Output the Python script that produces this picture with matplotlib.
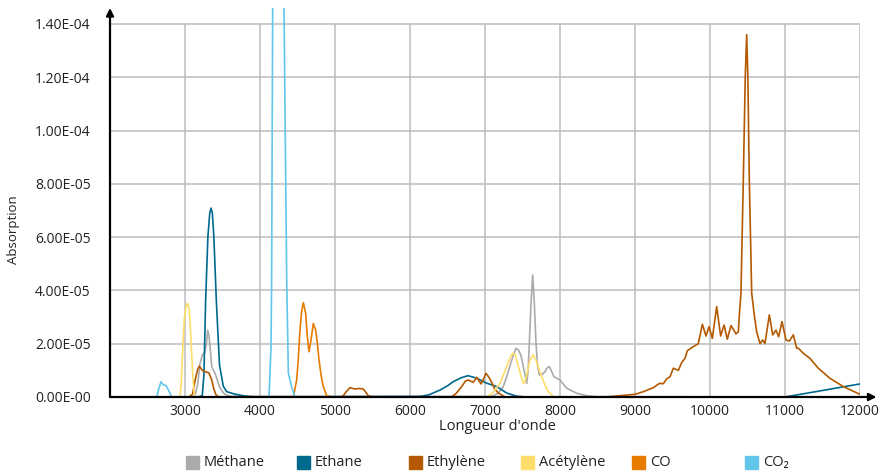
import matplotlib
matplotlib.use("Agg")
import matplotlib.pyplot as plt
from matplotlib.patches import Rectangle

plt.rcParams['font.family'] = ['Open Sans', 'DejaVu Sans']

SCALE = 1e-5  # absorption values below are given in units of 1E-05

methane_x = [2500, 3100, 3133, 3170, 3200, 3236, 3260, 3285, 3302, 3320, 3340, 3356, 3400, 3430, 3458,
             3500, 3533, 3600, 7050, 7111, 7180, 7244, 7300, 7356, 7413, 7450, 7476, 7500, 7520, 7556,
             7575, 7591, 7615, 7636, 7658, 7680, 7700, 7724, 7760, 7800, 7830, 7858, 7890, 7920, 8000,
             8089, 8222, 8356, 8500, 12000]
methane_y = [0, 0, 0.05, 0.5, 1.26, 1.61, 1.65, 2.0, 2.51, 2.3, 1.7, 1.14, 0.89, 0.65, 0.39,
             0.2, 0.1, 0.03, 0.02, 0.05, 0.15, 0.39, 0.85, 1.39, 1.83, 1.75, 1.58, 1.3, 1.01, 0.51,
             1.0, 2.02, 3.6, 4.58, 3.5, 2.03, 1.2, 0.83, 0.85, 0.95, 1.1, 1.14, 0.95, 0.76, 0.64,
             0.33, 0.14, 0.05, 0.01, 0]

ethane_x = [2500, 3150, 3200, 3230, 3252, 3275, 3305, 3330, 3347, 3365, 3385, 3418, 3460, 3511, 3556,
            3650, 3750, 3850, 3950, 6133, 6250, 6400, 6500, 6573, 6680, 6773, 6850, 6907, 7022, 7156,
            7289, 7422, 7550, 11000, 12000]
ethane_y = [0, 0, 0.02, 0.05, 0.8, 3.6, 6.0, 6.9, 7.09, 6.9, 6.0, 3.6, 1.2, 0.4, 0.2,
            0.12, 0.06, 0.02, 0, 0.02, 0.08, 0.26, 0.42, 0.57, 0.72, 0.80, 0.74, 0.68, 0.52, 0.39,
            0.15, 0.03, 0, 0, 0.49]

ethylene_x = [2500, 3050, 3100, 3140, 3170, 3191, 3230, 3267, 3300, 3320, 3356, 3385, 3413, 3450,
              5080, 5111, 5150, 5200, 5267, 5320, 5378, 5444, 5500,
              6555, 6620, 6689, 6740, 6777, 6844, 6889, 6947, 6985, 7013, 7050, 7089, 7130, 7178, 7267,
              8600, 8800, 9000, 9111, 9244, 9324, 9378, 9422, 9467, 9511, 9578, 9622, 9667, 9698,
              9778, 9844, 9898, 9947, 9987, 10031, 10089, 10142, 10187, 10231, 10280, 10347, 10378,
              10391, 10413, 10444, 10470, 10489, 10505, 10524, 10556, 10587, 10622, 10667, 10702,
              10733, 10791, 10836, 10880, 10916, 10960, 11013, 11058, 11111, 11156, 11178, 11244,
              11333, 11444, 11600, 11778, 12000]
ethylene_y = [0, 0, 0.1, 0.7, 1.05, 1.16, 1.0, 0.95, 0.92, 0.9, 0.64, 0.3, 0.08, 0,
              0, 0.05, 0.2, 0.35, 0.3, 0.32, 0.3, 0.05, 0,
              0, 0.15, 0.39, 0.6, 0.64, 0.55, 0.74, 0.49, 0.7, 0.89, 0.75, 0.55, 0.3, 0.15, 0,
              0, 0.05, 0.1, 0.2, 0.35, 0.51, 0.5, 0.68, 0.76, 1.08, 1.0, 1.29, 1.45, 1.74,
              1.89, 2.0, 2.73, 2.29, 2.64, 2.2, 3.39, 2.29, 2.70, 2.17, 2.68, 2.37, 2.45,
              3.08, 3.9, 8.15, 12.0, 13.6, 12.0, 8.15, 3.9, 3.15, 2.45, 2.0, 2.14,
              2.01, 3.08, 2.33, 2.51, 2.26, 2.83, 2.14, 2.1, 2.33, 1.83, 1.83, 1.64,
              1.45, 1.08, 0.7, 0.39, 0.1]

acetylene_x = [2500, 2933, 2950, 2969, 2990, 3013, 3031, 3058, 3080, 3102, 3120, 3133,
               6950, 7022, 7100, 7200, 7289, 7330, 7369, 7400, 7422, 7476, 7511, 7530, 7556,
               7600, 7644, 7689, 7720, 7756, 7800, 7844, 7920, 12000]
acetylene_y = [0, 0, 0.5, 1.76, 2.9, 3.39, 3.52, 3.27, 2.14, 0.89, 0.2, 0,
               0, 0, 0.15, 0.51, 1.14, 1.45, 1.64, 1.6, 1.39, 0.83, 0.51, 0.55, 0.83,
               1.39, 1.58, 1.33, 1.05, 0.76, 0.45, 0.2, 0, 0]

co_x = [2500, 4400, 4444, 4489, 4510, 4533, 4555, 4578, 4609, 4630, 4653, 4680, 4711, 4742, 4765,
        4787, 4815, 4844, 4889, 4950, 12000]
co_y = [0, 0, 0, 0.64, 1.4, 2.51, 3.2, 3.54, 3.14, 2.3, 1.7, 2.14, 2.76, 2.51, 2.0,
        1.39, 0.8, 0.39, 0.05, 0, 0]

co2_x = [2500, 2600, 2622, 2650, 2680, 2711, 2747, 2778, 2822, 2850,
         4100, 4120, 4147, 4155, 4169, 4185, 4240, 4300, 4320, 4356, 4378, 4422, 4458, 4500, 12000]
co2_y = [0, 0, 0, 0.3, 0.57, 0.45, 0.43, 0.27, 0, 0,
         0, 0, 1.89, 4.4, 14.6, 40, 60, 40, 14.6, 4.4, 0.89, 0.39, 0.05, 0, 0]

series_names = ["Méthane", "Ethane", "Ethylène", "Acétylène", "CO", "CO\u2082"]
series_colors = ["#ABABAB", "#00698D", "#B45900", "#FEDD6A", "#E77B00", "#62C6EA"]
series_data = [(methane_x, methane_y), (ethane_x, ethane_y), (ethylene_x, ethylene_y),
               (acetylene_x, acetylene_y), (co_x, co_y), (co2_x, co2_y)]

x_ticks = [3000, 4000, 5000, 6000, 7000, 8000, 9000, 10000, 11000, 12000]
y_ticks = [0, 2e-5, 4e-5, 6e-5, 8e-5, 1.0e-4, 1.2e-4, 1.4e-4]
y_tick_labels = ["0.00E-00", "2.00E-05", "4.00E-05", "6.00E-05", "8.00E-05",
                 "1.00E-04", "1.20E-04", "1.40E-04"]

TXT = "#222222"
W, H = 889, 476
fig = plt.figure(figsize=(W / 100, H / 100), dpi=100)
ax = fig.add_axes([110 / W, 1 - 397 / H, 750 / W, 389 / H])
ax.set_xlim(2000, 12000)
ax.set_ylim(0, 14.6e-5)

grid_kw = dict(color="#BDBDBD", lw=1.1, zorder=0)
ax.hlines(y_ticks[1:], 2000, x_ticks[-1], **grid_kw)
ax.vlines(x_ticks, 0, y_ticks[-1], **grid_kw)

for (xs, ys), c in zip(series_data, series_colors):
    ax.plot(xs, [v * SCALE for v in ys], color=c, lw=1.2, zorder=2)

for s in ax.spines.values():
    s.set_visible(False)
ax.tick_params(length=0, colors=TXT)
ax.tick_params(axis="y", pad=14, labelsize=10)
ax.tick_params(axis="x", pad=5, labelsize=10)
ax.set_xticks(x_ticks)
ax.set_xticklabels([str(t) for t in x_ticks])
ax.set_yticks(y_ticks)
ax.set_yticklabels(y_tick_labels)

arrow_kw = dict(arrowstyle="-|>", color="black", lw=1.6, mutation_scale=11, shrinkA=0, shrinkB=0)
ax.annotate("", xy=(0, 1.0), xytext=(0, 0), xycoords="axes fraction", arrowprops=arrow_kw,
            annotation_clip=False)
ax.annotate("", xy=(1.022, 0), xytext=(0, 0), xycoords="axes fraction", arrowprops=arrow_kw,
            annotation_clip=False)

fig.text(497 / W, 1 - 427 / H, "Longueur d'onde", fontsize=10.5, color=TXT,
         ha="center", va="center")
fig.text(14 / W, 1 - 230 / H, "Absorption", rotation=90, fontsize=9.5, color=TXT,
         ha="center", va="center")

# legend row along the bottom
legend_left = [186, 297, 409, 521, 632, 745]
for name, c, lx in zip(series_names, series_colors, legend_left):
    fig.patches.append(Rectangle((lx / W, 1 - 469 / H), 13 / W, 13 / H, color=c,
                                 transform=fig.transFigure, figure=fig))
    fig.text((lx + 18) / W, 1 - 463 / H, name, fontsize=10.5, color=TXT, va="center",
             ha="left")

fig.savefig("out.png", dpi=100)
